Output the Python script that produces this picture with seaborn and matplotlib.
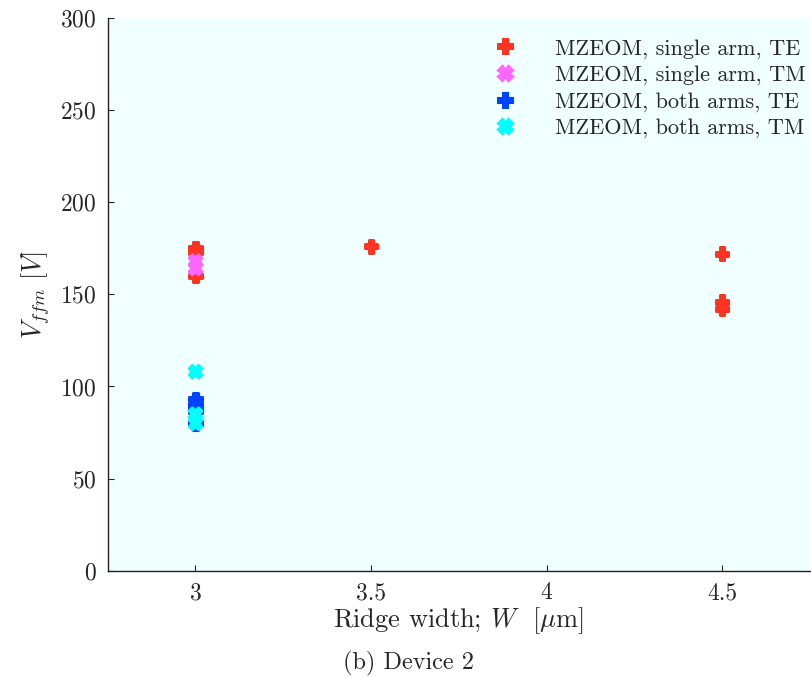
import matplotlib
matplotlib.use("Agg")
import matplotlib.pyplot as plt
import seaborn as sns
import pandas as pd

# Measured full-field modulation voltages per ridge width
series_names = [
    "MZEOM, single arm, TE",
    "MZEOM, single arm, TM",
    "MZEOM, both arms, TE",
    "MZEOM, both arms, TM",
]
single_te_w = [3.0, 3.0, 3.0, 3.5, 4.5, 4.5, 4.5]
single_te_v = [175, 173, 160, 176, 172, 146, 142]
single_tm_w = [3.0, 3.0]
single_tm_v = [168, 164]
both_te_w = [3.0, 3.0, 3.0, 3.0]
both_te_v = [93, 90, 87, 80]
both_tm_w = [3.0, 3.0, 3.0]
both_tm_v = [108, 85, 80]

x_ticks = [3, 3.5, 4, 4.5]
x_tick_labels = ["3", "3.5", "4", "4.5"]
y_ticks = [0, 50, 100, 150, 200, 250, 300]

colors = ["#ff3322", "#ff66ff", "#0044ff", "#00ffff"]
markers = ["P", "X", "P", "X"]

frames = []
for name, w, v in zip(series_names,
                      [single_te_w, single_tm_w, both_te_w, both_tm_w],
                      [single_te_v, single_tm_v, both_te_v, both_tm_v]):
    frames.append(pd.DataFrame({"W": w, "V": v, "series": name}))
df = pd.concat(frames, ignore_index=True)

sns.set_theme(style="ticks")
plt.rcParams.update({
    "font.family": ["cmr10", "DejaVu Serif"],
    "mathtext.fontset": "cm",
    "axes.formatter.use_mathtext": True,
    "axes.unicode_minus": False,
    "xtick.direction": "in",
    "ytick.direction": "in",
})

fig = plt.figure(figsize=(8.11, 6.77), dpi=100)
ax = fig.add_axes([0.1328, 0.1566, 0.866, 0.8175])
ax.set_facecolor("#f0ffff")

sns.scatterplot(
    data=df, x="W", y="V", hue="series", style="series",
    hue_order=series_names, style_order=series_names,
    palette=dict(zip(series_names, colors)),
    markers=dict(zip(series_names, markers)),
    s=80, linewidth=2.2, edgecolor="face", ax=ax, legend="full",
)

ax.set_xlim(2.75, 4.75)
ax.set_ylim(0, 300)
ax.set_xticks(x_ticks)
ax.set_xticklabels(x_tick_labels)
ax.set_yticks(y_ticks)
ax.tick_params(axis="both", labelsize=17, length=4, width=0.8, pad=8)
for side in ("top", "right"):
    ax.spines[side].set_visible(False)
for side in ("left", "bottom"):
    ax.spines[side].set_linewidth(1.0)
    ax.spines[side].set_color("#222222")

ax.set_xlabel("Ridge width; $W$  [$\\mu$m]", fontsize=19, labelpad=1)
ax.set_ylabel("$V_{ffm}\\ [V]$", fontsize=19, labelpad=6)

leg = ax.legend(loc="upper right", frameon=False, fontsize=16,
                handletextpad=1.25, labelspacing=0.3,
                borderaxespad=0.0, markerscale=1.05,
                bbox_to_anchor=(1.006, 0.978))
for h in leg.legend_handles:
    h.set_linewidth(2.2)

fig.text(0.504, 0.020, "(b) Device 2", ha="center", va="center", fontsize=17.5)

fig.savefig("out.png", dpi=100)
